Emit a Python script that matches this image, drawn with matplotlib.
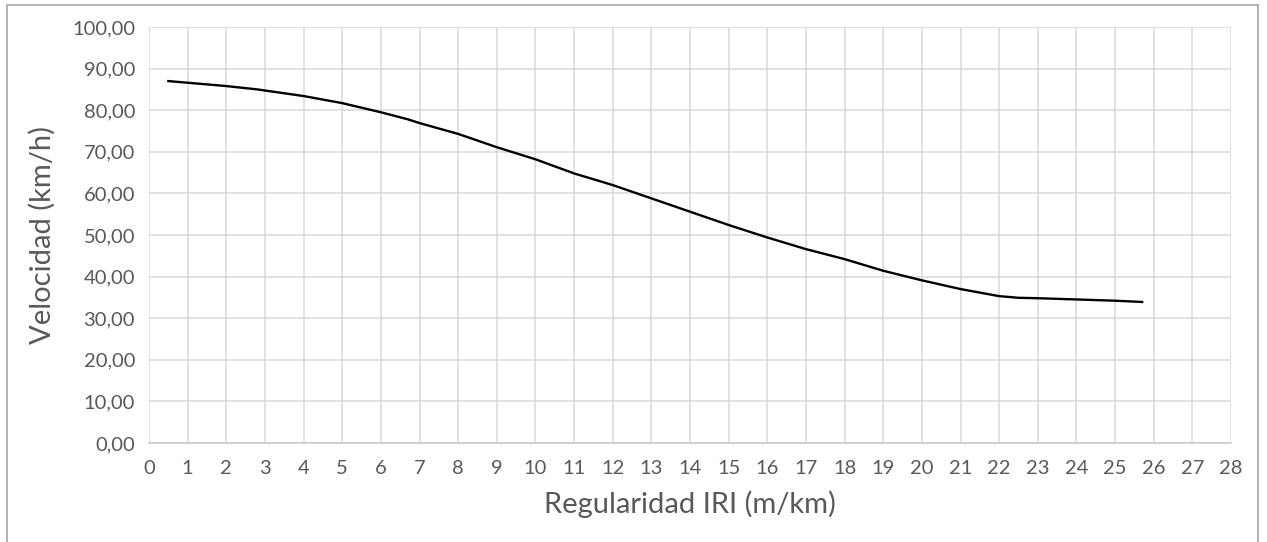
import matplotlib.pyplot as plt
from matplotlib.patches import Rectangle

# IRI (m/km) vs speed (km/h)
iri = [0.5, 1, 2, 2.8, 4, 5, 6, 6.7, 7, 8, 9, 10, 11, 12, 13, 14, 15, 16, 17,
       18, 19, 20, 21, 22, 22.5, 23, 24, 25, 25.7]
velocidad = [87.0, 86.6, 85.8, 85.0, 83.4, 81.7, 79.5, 77.8, 76.9, 74.3, 71.1,
             68.2, 64.8, 62.0, 58.8, 55.6, 52.4, 49.4, 46.6, 44.2, 41.4, 39.1,
             37.0, 35.3, 34.9, 34.8, 34.5, 34.2, 33.9]
x_ticks = list(range(0, 29))
y_ticks = list(range(0, 101, 10))

plt.rcParams['font.family'] = ['Lato', 'DejaVu Sans']
grey = '#595959'

fig = plt.figure(figsize=(12.67, 5.42), dpi=100)
ax = fig.add_axes([0.1176, 0.1827, 0.854, 0.7675])

ax.plot(iri, velocidad, color='black', linewidth=1.7)

ax.set_xlim(0, 28)
ax.set_ylim(0, 100)
ax.set_xticks(x_ticks)
ax.set_yticks(y_ticks)
ax.set_yticklabels([f"{v:.2f}".replace('.', ',') for v in y_ticks])
ax.tick_params(length=0, labelsize=14.5, labelcolor=grey)
ax.tick_params(axis='y', pad=10)
ax.tick_params(axis='x', pad=12)
ax.grid(True, color='#d9d9d9', linewidth=1.1)
ax.set_axisbelow(True)
for side in ['top', 'right', 'left']:
    ax.spines[side].set_visible(False)
ax.spines['bottom'].set_color('#c8c8c8')
ax.spines['bottom'].set_linewidth(1.1)

ax.set_xlabel("Regularidad IRI (m/km)", fontsize=21, color=grey, labelpad=10)
ax.set_ylabel("Velocidad (km/h)", fontsize=21, color=grey, labelpad=12)

# chart area border (cut off at the bottom)
fig.patches.append(Rectangle((7 / 1267, -0.1), 1251 / 1267, 1.1 - 5 / 542,
                             transform=fig.transFigure, fill=False,
                             edgecolor='#a6a6a6', linewidth=1.2))

fig.savefig("out.png", dpi=100, facecolor='white')
